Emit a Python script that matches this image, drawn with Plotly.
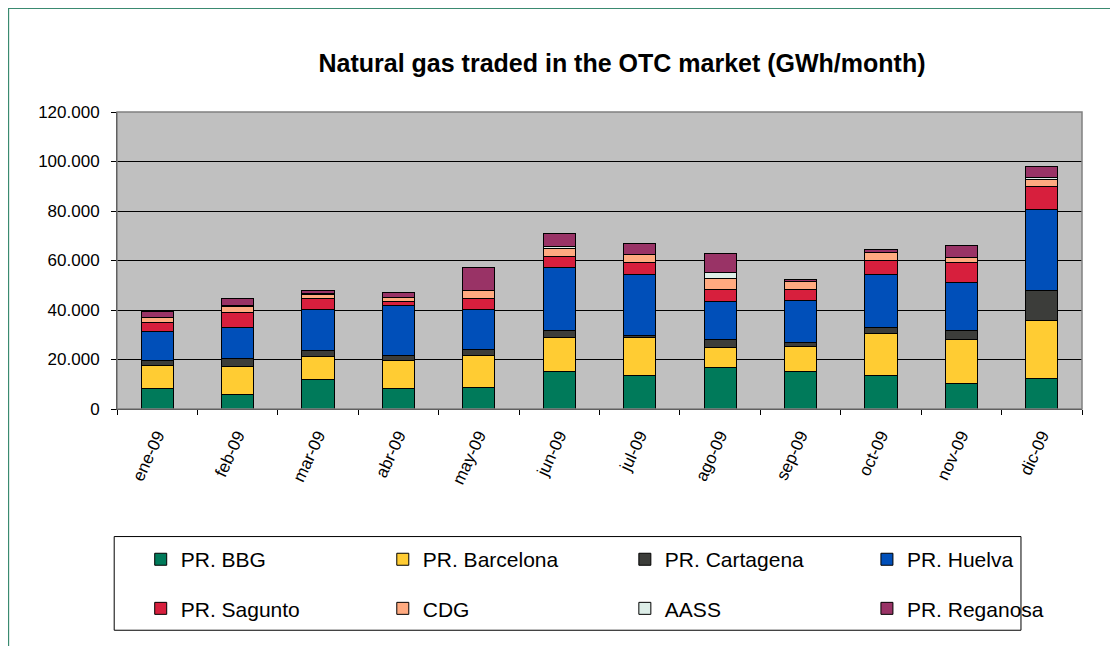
import plotly.graph_objects as go

months = ["ene-09", "feb-09", "mar-09", "abr-09", "may-09", "jun-09",
          "jul-09", "ago-09", "sep-09", "oct-09", "nov-09", "dic-09"]

bbg = [8100, 5900, 11900, 8100, 8600, 15100, 13400, 16600, 15100, 13500, 10300, 12400]
barcelona = [9400, 11200, 9400, 11300, 12900, 13800, 15300, 8100, 10300, 17100, 17600, 23500]
cartagena = [2200, 3150, 2300, 2100, 2500, 2950, 1000, 3200, 1600, 2200, 3800, 12000]
huelva = [11500, 12550, 16600, 20500, 16200, 25250, 24600, 15700, 17000, 21600, 19500, 32800]
sagunto = [3800, 6200, 4300, 1600, 4300, 4600, 4800, 4700, 4300, 5700, 8000, 9000]
cdg = [2000, 2300, 1700, 1500, 3300, 3300, 3300, 4300, 3400, 3100, 2100, 3200]
aass = [0, 500, 300, 0, 0, 500, 0, 2700, 0, 0, 0, 500]
reganosa = [2300, 3000, 1400, 1900, 9300, 5600, 4400, 7600, 700, 1300, 4800, 4700]

series_names = ["PR. BBG", "PR. Barcelona", "PR. Cartagena", "PR. Huelva",
                "PR. Sagunto", "CDG", "AASS", "PR. Reganosa"]
series_values = [bbg, barcelona, cartagena, huelva, sagunto, cdg, aass, reganosa]
series_colors = ["#007A5A", "#FFCC33", "#3C3D3A", "#004FB9",
                 "#D71F3D", "#FFAA80", "#DDEEE8", "#993366"]

FONT = "Liberation Sans, Arial, sans-serif"

# figure is drawn inside the page's 8px body margin -> figure px = screen px - 8
FW, FH = 1110, 638
L, R, T, B = 109.3, 1074.0, 104.3, 400.7
W, H = R - L, B - T
def px(x):
    return (x - L) / W
def py(y):
    return (B - y) / H

fig = go.Figure()
legend_layouts = {}
for i, (name, vals, color) in enumerate(zip(series_names, series_values, series_colors)):
    lg = "legend" if i == 0 else f"legend{i + 1}"
    fig.add_trace(go.Bar(
        x=months, y=vals, name=name, legend=lg, showlegend=True,
        marker=dict(color=color, line=dict(color="black", width=1)),
    ))
    col, row = i % 4, i // 4
    legend_layouts[lg] = dict(
        x=px(133 + 242 * col), y=py(551 + 49 * row),
        xanchor="left", yanchor="middle", orientation="h",
        font=dict(family=FONT, size=21, color="black"),
        bgcolor="rgba(0,0,0,0)", borderwidth=0, itemclick=False,
        visible=True,
    )

fig.update_layout(
    width=FW, height=FH,
    showlegend=True,
    margin=dict(l=L, r=FW - R, t=T, b=FH - B, pad=0),
    paper_bgcolor="white",
    plot_bgcolor="#C0C0C0",
    barmode="stack",
    bargap=0.6,
    separators=",.",
    font=dict(family=FONT, color="black"),
    title=dict(
        text="<b>Natural gas traded in the OTC market (GWh/month)</b>",
        x=614 / FW, xanchor="center", xref="container",
        y=(FH - 55) / FH, yanchor="middle", yref="container",
        font=dict(family=FONT, size=25, color="black"),
    ),
    xaxis=dict(
        type="category", tickangle=-65, tickson="boundaries",
        ticks="outside", ticklen=5, tickcolor="black", tickwidth=1,
        showline=True, linecolor="black", linewidth=1,
        showgrid=False, tickfont=dict(family=FONT, size=17, color="black"),
        ticklabelstandoff=9, layer="above traces",
    ),
    yaxis=dict(
        range=[0, 120000], dtick=20000, tickformat=",d",
        ticks="outside", ticklen=5, tickcolor="black", tickwidth=1,
        showline=True, linecolor="black", linewidth=1,
        showgrid=True, gridcolor="black", gridwidth=1, zeroline=False,
        tickfont=dict(family=FONT, size=17, color="black"),
        ticklabelstandoff=8, layer="above traces",
    ),
    shapes=[
        # gray plot-area frame (top / right)
        dict(type="rect", xref="paper", yref="paper", x0=0, x1=1, y0=0, y1=1,
             line=dict(color="#808080", width=1.5), layer="above"),
        # legend box
        dict(type="rect", xref="paper", yref="paper",
             x0=px(106.5), x1=px(1013), y0=py(621.5), y1=py(528),
             line=dict(color="black", width=1), layer="above"),
        # outer chart frame
        dict(type="rect", xref="paper", yref="paper",
             x0=px(0.75), x1=px(1125), y0=py(660), y1=py(0.75),
             line=dict(color="#3A8A70", width=1.5), layer="above"),
    ],
    **legend_layouts,
)

fig.write_html("out.html")
